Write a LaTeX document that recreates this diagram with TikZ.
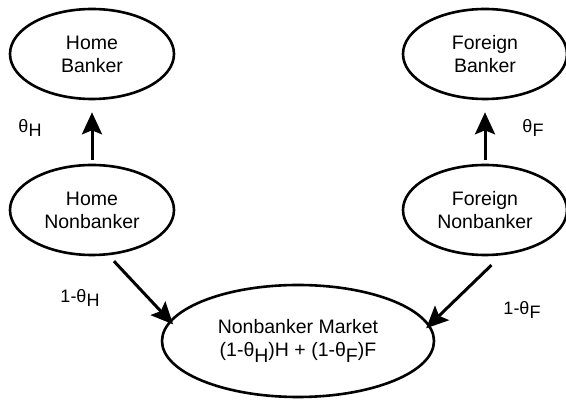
\documentclass[tikz,border=0pt]{standalone}
\usepackage{fontspec}
\setmainfont{Liberation Sans}
\usepackage{tikz}
\usetikzlibrary{shapes.geometric, arrows.meta}

\newcommand{\lowsub}[1]{\raisebox{-0.5ex}{#1}}

\tikzset{
  agent/.style={ellipse, draw, line width=2.6pt, inner sep=0pt,
    minimum width=164pt, minimum height=90pt, align=center,
    font=\fontsize{19.5}{23}\selectfont},
  flow/.style={line width=3pt, -{Stealth[length=22pt, width=20pt, inset=4pt]}},
  share/.style={font=\fontsize{18}{20}\selectfont}
}

\begin{document}
\begin{tikzpicture}[x=1pt, y=-1pt]
\useasboundingbox (0,0) rectangle (566,403);

% Agents
\node[agent] (hb) at (92,54) {Home\\Banker};
\node[agent] (fb) at (485,54) {Foreign\\Banker};
\node[agent] (hn) at (92,210) {Home\\Nonbanker};
\node[agent] (fn) at (485,210) {Foreign\\Nonbanker};
\node[agent, minimum width=272pt, minimum height=112pt] (nm) at (298,341)
  {Nonbanker Market\\(1-θ\lowsub{H})H + (1-θ\lowsub{F})F};

% Shares going to bankers
\draw[flow, shorten <=4pt, shorten >=12pt] (hn) -- (hb);
\draw[flow, shorten <=4pt, shorten >=12pt] (fn) -- (fb);

% Shares going to the market
\draw[flow, shorten <=8pt, shorten >=-5pt] (hn.-70) -- (nm.171);
\draw[flow, shorten <=14pt, shorten >=-5pt] (fn.-70) -- (nm.7);

% Labels
\node[share] (th) at (30,128) {θ\lowsub{H}};
\node[share] (tf) at (533,128) {θ\lowsub{F}};
\node[share] (oh) at (80,298) {1-θ\lowsub{H}};
\node[share] (of) at (522,310) {1-θ\lowsub{F}};
\end{tikzpicture}
\end{document}
